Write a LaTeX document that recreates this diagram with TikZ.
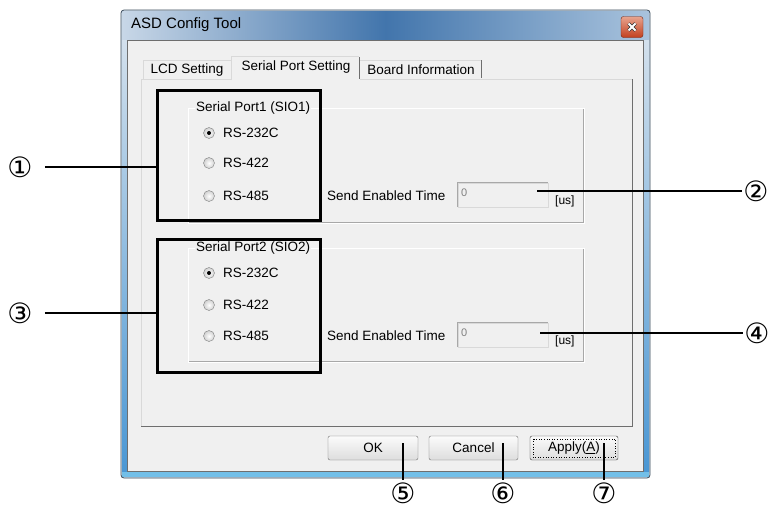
\documentclass[tikz,border=0pt]{standalone}
\usepackage{fontspec}
\setmainfont{Liberation Sans}
\newfontfamily\circfont{DejaVu Sans}
\definecolor{winbg}{HTML}{F0F0F0}
\definecolor{frameL}{HTML}{D3E0EC}
\definecolor{tbL}{HTML}{C8D7E7}
\definecolor{tbM}{HTML}{4275AC}
\definecolor{tbR}{HTML}{A9C3DD}
\definecolor{stripe}{HTML}{4A97D4}
\definecolor{band}{HTML}{72BFE8}
\definecolor{outer}{HTML}{3A4A5A}
\definecolor{edge}{HTML}{A8A8A8}
\definecolor{darkedge}{HTML}{6E6E6E}
\definecolor{lightedge}{HTML}{D9D9D9}
\definecolor{radioedge}{HTML}{7E7F7F}
\definecolor{radiofill}{HTML}{D0D0D0}
\definecolor{btnedge}{HTML}{707070}
\definecolor{btnbot}{HTML}{DDDDDD}
\definecolor{closeT}{HTML}{E8A48F}
\definecolor{closeB}{HTML}{C2401F}
\begin{document}
\begin{tikzpicture}[x=1pt,y=-1pt,
  ui/.style={font=\fontsize{13.5}{15}\selectfont, inner sep=0pt, text=black},
  uileft/.style={ui, anchor=west},
  num/.style={font=\circfont\fontsize{28}{28}\selectfont, inner sep=0pt},
  callout/.style={line width=2.4pt, black},
  hlbox/.style={draw=black, line width=3pt, minimum width=163pt, inner sep=0pt},
  grpframe/.style={draw=edge, line width=0.8pt, minimum width=395pt, inner sep=0pt},
  grplabel/.style={ui, anchor=west, fill=winbg, inner xsep=1pt},
  radiobtn/.style={circle, inner sep=0pt, minimum size=11pt, draw=radioedge, inner color=white, outer color=radiofill},
  tbox/.style={minimum width=90pt, minimum height=24pt, inner sep=0pt, fill=winbg, draw=lightedge},
  hint/.style={font=\fontsize{11}{12}\selectfont, text=gray, inner sep=0pt, anchor=west},
  unit/.style={font=\fontsize{12}{13}\selectfont, inner sep=0pt, anchor=west},
  btn/.style={ui, minimum height=24pt, rounded corners=2pt, draw=btnedge, top color=white!97!gray, bottom color=btnbot},
]
\useasboundingbox (0,0) rectangle (769,512);
\fill[white] (0,0) rectangle (769,512);

% window frame
\fill[frameL, rounded corners=3pt] (121,10) rectangle (650,478);
\shade[left color=tbL, right color=tbR, middle color=tbM] (122,11) rectangle (649,40);
\shade[top color=frameL, bottom color=stripe] (122,40) rectangle (127,472);
\shade[top color=frameL, bottom color=stripe] (644,40) rectangle (649,472);
\fill[band] (122,472) rectangle (649,477);
\draw[outer, line width=0.8pt, rounded corners=3pt] (121,10) rectangle (650,478);
\node[anchor=west, inner sep=0pt, font=\fontsize{15}{16}\selectfont] (title) at (131,25) {ASD Config Tool};

% close button
\node[minimum width=22pt, minimum height=21pt, rounded corners=2.5pt, draw=closeB!60!black, top color=closeT, bottom color=closeB] (close) at (632,27) {};
\draw[gray!40!black, line width=3.2pt] (628.5,23.5) -- (635.5,30.5) (635.5,23.5) -- (628.5,30.5);
\draw[white, line width=1.8pt] (628.5,23.5) -- (635.5,30.5) (635.5,23.5) -- (628.5,30.5);

% client area
\draw[fill=winbg, draw=darkedge, line width=0.8pt] (127.5,40.5) rectangle (643.5,471.5);

% tab panel
\draw[lightedge, line width=0.8pt] (141,426) -- (141,79) -- (632,79);
\draw[darkedge, line width=0.8pt] (632,79) -- (632,426) -- (141,426);

% tabs
\draw[lightedge, line width=0.8pt] (143,79) -- (143,60) -- (231,60);
\node[ui] (tabLCD) at (187,70) {LCD Setting};
\draw[lightedge, line width=0.8pt] (360,60) -- (481,60);
\draw[darkedge, line width=1pt] (481.5,60) -- (481.5,78);
\node[ui] (tabBoard) at (421,70) {Board Information};
\fill[winbg] (231,56) rectangle (360,80);
\draw[lightedge, line width=0.8pt] (231,80) -- (231,56) -- (359,56);
\draw[darkedge, line width=1pt] (359.5,57) -- (359.5,79);
\node[ui] (tabSerial) at (296,67) {Serial Port Setting};

% group box 1
\node[grpframe, minimum height=114pt] (g1) at (385.5,165) {};
\draw[white, line width=0.8pt] ([shift={(1,1)}]g1.north west) rectangle ([shift={(1,1)}]g1.south east);
\node[grplabel] (l1) at (195,108) {Serial Port1 (SIO1)};
\node[radiobtn] (ra1) at (209,133) {};
\fill (ra1) circle (2pt);
\node[radiobtn] (rb1) at (209,163) {};
\node[radiobtn] (rc1) at (209,196) {};
\node[uileft] (ta1) at (223,133) {RS-232C};
\node[uileft] (tb1) at (223,163) {RS-422};
\node[uileft] (tc1) at (223,196) {RS-485};
\node[uileft] (s1) at (327,196) {Send Enabled Time};
\node[tbox] (t1) at (503,195) {};
\draw[edge, line width=0.8pt] (t1.south west) -- (t1.north west) -- (t1.north east);
\node[hint] (z1) at (461,193) {0};
\node[unit] (u1) at (555,201) {[us]};

% group box 2
\node[grpframe, minimum height=113pt] (g2) at (385.5,304.5) {};
\draw[white, line width=0.8pt] ([shift={(1,1)}]g2.north west) rectangle ([shift={(1,1)}]g2.south east);
\node[grplabel] (l2) at (195,248) {Serial Port2 (SIO2)};
\node[radiobtn] (ra2) at (209,273) {};
\fill (ra2) circle (2pt);
\node[radiobtn] (rb2) at (209,305) {};
\node[radiobtn] (rc2) at (209,336) {};
\node[uileft] (ta2) at (223,273) {RS-232C};
\node[uileft] (tb2) at (223,305) {RS-422};
\node[uileft] (tc2) at (223,336) {RS-485};
\node[uileft] (s2) at (327,336) {Send Enabled Time};
\node[tbox] (t2) at (503,335) {};
\draw[edge, line width=0.8pt] (t2.south west) -- (t2.north west) -- (t2.north east);
\node[hint] (z2) at (461,333) {0};
\node[unit] (u2) at (555,341) {[us]};

% buttons
\node[btn, minimum width=90pt] (ok) at (373,448) {OK};
\node[btn, minimum width=89pt] (cancel) at (473.5,448) {Cancel};
\node[btn, minimum width=88pt, draw=black!80] (apply) at (574,448) {Apply(\underline{A})};
\draw[black, dotted, line width=0.6pt] ([shift={(3,3)}]apply.north west) rectangle ([shift={(-3,-3)}]apply.south east);

% highlight boxes
\node[hlbox, minimum height=130pt] (b1) at (238.5,155) {};
\node[hlbox, minimum height=133pt] (b2) at (238.5,305.5) {};

% callouts
\node[num] (c1) at (20,167) {①};
\node[num] (c2) at (756,191) {②};
\node[num] (c3) at (20,313) {③};
\node[num] (c4) at (757,333) {④};
\node[num, anchor=north] (c5) at (403,483) {⑤};
\node[num, anchor=north] (c6) at (503,483) {⑥};
\node[num, anchor=north] (c7) at (604,483) {⑦};
\coordinate (p2) at (537,191);
\coordinate (p4) at (540,333);
\coordinate (p5) at (403,443);
\coordinate (p6) at (503,443);
\coordinate (p7) at (604,443);
\draw[callout] ([xshift=12pt]c1.east) -- (c1 -| b1.west);
\draw[callout] ([xshift=12pt]c3.east) -- (c3 -| b2.west);
\draw[callout] (p2) -- ([xshift=-1pt]c2.west);
\draw[callout] (p4) -- ([xshift=-1pt]c4.west);
\draw[callout] (p5) -- ([yshift=3pt]c5.north);
\draw[callout] (p6) -- ([yshift=3pt]c6.north);
\draw[callout] (p7) -- ([yshift=3pt]c7.north);
\end{tikzpicture}
\end{document}
